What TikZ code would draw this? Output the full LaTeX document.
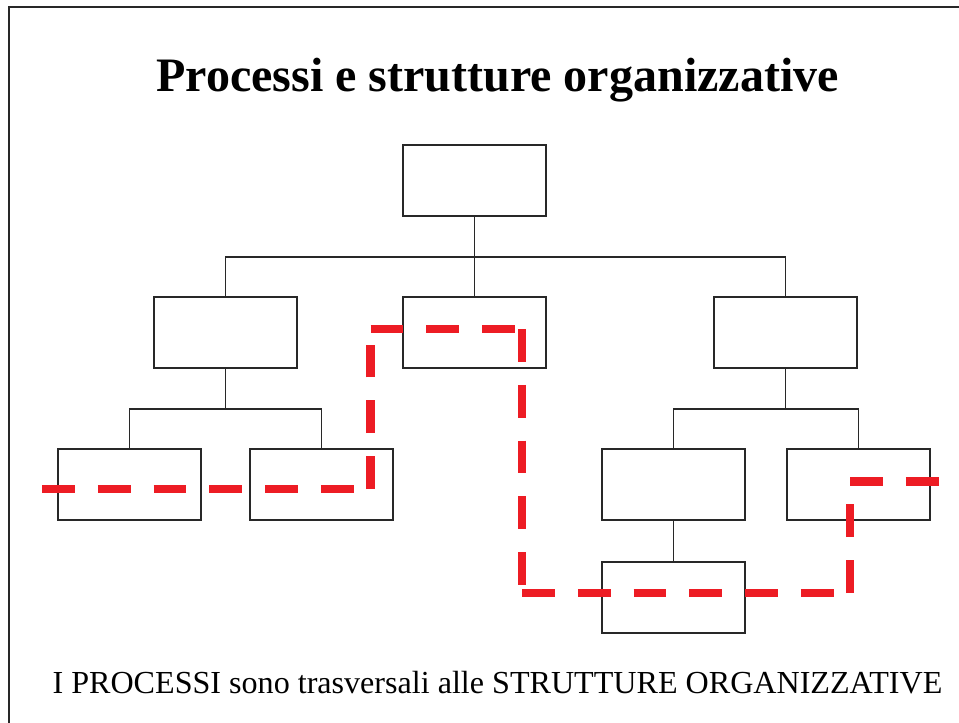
\documentclass[tikz,border=0pt]{standalone}
\usepackage{fontspec}
\setmainfont{Liberation Serif}
\usepackage{tikz}
\usetikzlibrary{positioning}
\definecolor{procred}{RGB}{237,28,36}
\definecolor{framegray}{RGB}{40,40,40}

\begin{document}
\begin{tikzpicture}[x=0.03cm, y=-0.03cm]
    \tikzstyle{orgbox} = [rectangle, minimum width=4.29cm, minimum height=2.13cm, inner sep=0pt, outer sep=0pt, draw=framegray, line width=0.9pt, fill=white]
    \tikzstyle{link} = [draw=framegray, line width=0.9pt]
    \tikzstyle{procline} = [draw=procred, line width=7.65pt, dash pattern=on 28.06pt off 19.56pt]

    \useasboundingbox (0,0) rectangle (959,722);
    \draw [framegray, line width=1.7pt] (9,7) rectangle (975,740);

    % titolo e didascalia
    \node (title) [anchor=base, font=\fontsize{41pt}{48pt}\selectfont\bfseries] at (497.5,91) {Processi e strutture organizzative};
    \node (caption) [anchor=base, font=\fontsize{27.4pt}{32pt}\selectfont] at (497.5,693) {I PROCESSI sono trasversali alle STRUTTURE ORGANIZZATIVE};

    % organigramma
    \node (top) [orgbox] at (474.5,180.5) {};
    \node (dirA) [orgbox] at (225.5,332.5) {};
    \node (dirB) [orgbox] at (474.5,332.5) {};
    \node (dirC) [orgbox] at (785.5,332.5) {};
    \node (unitA) [orgbox] at (129.5,484.5) {};
    \node (unitB) [orgbox] at (321.5,484.5) {};
    \node (unitC) [orgbox] at (673.5,484.5) {};
    \node (unitD) [orgbox] at (858.5,484.5) {};
    \node (office) [orgbox] at (673.5,597.5) {};

    \coordinate (busTop) at (474.5,257);
    \coordinate (busA) at (225.5,409);
    \coordinate (busC) at (785.5,409);

    \draw [link] (top) -- (busTop);
    \draw [link] (dirA) |- (busTop) -| (dirC);
    \draw [link] (busTop) -- (dirB);
    \draw [link] (dirA) -- (busA);
    \draw [link] (unitA) |- (busA) -| (unitB);
    \draw [link] (dirC) -- (busC);
    \draw [link] (unitC) |- (busC) -| (unitD);
    \draw [link] (unitC) -- (office);

    % percorso del processo
    \coordinate (p1) at (42,489);
    \coordinate (p2) at (370.5,489);
    \coordinate (p3) at (370.5,329);
    \coordinate (p4) at (522,329);
    \coordinate (p5) at (522,593);
    \coordinate (p6) at (850,593);
    \coordinate (p7) at (850,481.5);
    \coordinate (p8) at (939,481.5);

    \draw [procline] (p1) -- (p2);
    \draw [procline] (p2) -- (p3);
    \draw [procline] (p3) -- (p4);
    \draw [procline] (p4) -- (p5);
    \draw [procline] (p5) -- (p6);
    \draw [procline] (p6) -- (p7);
    \draw [procline] (p7) -- (p8);
\end{tikzpicture}
\end{document}
